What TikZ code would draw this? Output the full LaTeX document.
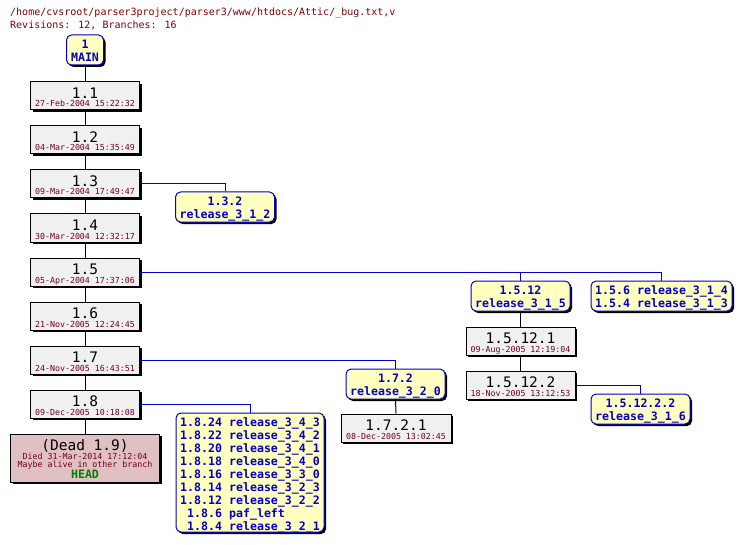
\documentclass[tikz,border=0pt]{standalone}
\usepackage{fontspec}
\setmainfont{DejaVu Sans Mono}
\setmonofont{DejaVu Sans Mono}
\usetikzlibrary{shadows}
\definecolor{hdr}{RGB}{128,0,0}
\definecolor{datec}{RGB}{112,0,32}
\definecolor{bblue}{RGB}{0,0,200}
\definecolor{byel}{RGB}{255,255,192}
\definecolor{tgrey}{RGB}{240,240,240}
\definecolor{deadf}{RGB}{224,192,192}
\definecolor{headg}{RGB}{0,128,0}
\newcommand\revnode[5]{%
  \node[revbox] (#1) at (#2,#3) {};
  \node[revt] (#1t) at (#2,#3+2.5) {#4};
  \node[datet] (#1d) at (#2,#3+11) {#5};}
\newcommand\brnode[6]{%
  \node[brbox,minimum width=#4pt] (#1) at (#2,#3) {};
  \node[brt] (#1a) at (#2,#3-1.3) {#5};
  \node[brt] (#1b) at (#2,#3+11.3) {#6};}
\begin{document}
\begin{tikzpicture}[x=1pt,y=-1pt,
  shd/.style={general shadow={fill=black,shadow xshift=2pt,shadow yshift=-2pt}},
  revbox/.style={draw=black,fill=tgrey,line width=1pt,minimum width=109pt,minimum height=28pt,inner sep=0pt,shd},
  brbox/.style={draw=bblue,fill=byel,line width=1pt,rounded corners=5pt,inner sep=0pt,minimum height=30pt,shd},
  revt/.style={anchor=base,inner sep=0pt,font=\fontsize{14.5}{16}\selectfont},
  datet/.style={anchor=base,inner sep=0pt,text=datec,font=\fontsize{8.3}{9}\selectfont},
  brt/.style={anchor=base,inner sep=0pt,text=bblue,font=\bfseries\fontsize{11.6}{13}\selectfont},
  hdrt/.style={anchor=base west,inner sep=0pt,text=hdr,font=\fontsize{10}{12}\selectfont},
  tconn/.style={draw=black,line width=1pt},
  bconn/.style={draw=bblue,line width=1pt}]
\fill[white] (0,0) rectangle (743,545);
\useasboundingbox (0,0) rectangle (743,545);
% header
\node[hdrt] (h1) at (10,16) {/home/cvsroot/parser3project/parser3/www/htdocs/Attic/\_bug.txt,v};
\node[hdrt] (h2) at (10,28.5) {Revisions: 12, Branches: 16};
% main
\brnode{main}{85}{50}{37}{1}{MAIN}
% trunk
\revnode{r11}{85}{96}{1.1}{27-Feb-2004 15:22:32}
\revnode{r12}{85}{140}{1.2}{04-Mar-2004 15:35:49}
\revnode{r13}{85}{184}{1.3}{09-Mar-2004 17:49:47}
\revnode{r14}{85}{228}{1.4}{30-Mar-2004 12:32:17}
\revnode{r15}{85}{272}{1.5}{05-Apr-2004 17:37:06}
\revnode{r16}{85}{316}{1.6}{21-Nov-2005 12:24:45}
\revnode{r17}{85}{360}{1.7}{24-Nov-2005 16:43:51}
\revnode{r18}{85}{404}{1.8}{09-Dec-2005 10:18:08}
% dead
\node[draw=black,fill=deadf,line width=1pt,minimum width=149pt,minimum height=48pt,inner sep=0pt,shd] (dead) at (85,458) {};
\node[revt] (deadt) at (85,450) {(Dead 1.9)};
\node[datet] (deadd) at (85,459) {Died 31-Mar-2014 17:12:04};
\node[datet] (deadm) at (85,467) {Maybe alive in other branch};
\node[brt,text=headg] (deadh) at (85,478.5) {HEAD};
% branches
\brnode{b132}{225}{207}{99}{1.3.2}{release\_3\_1\_2}
\brnode{b1512}{520.5}{296}{99}{1.5.12}{release\_3\_1\_5}
\node[brbox,minimum width=141pt] (b156) at (661.5,296) {};
\node[brt,anchor=base west] (b156t) at (595,294.7) {\begin{tabular}[t]{@{}r@{\ }l@{}}1.5.6&release\_3\_1\_4\\1.5.4&release\_3\_1\_3\end{tabular}};
\revnode{r15121}{520.5}{341}{1.5.12.1}{09-Aug-2005 12:19:04}
\revnode{r15122}{520.5}{385}{1.5.12.2}{18-Nov-2005 13:12:53}
\brnode{b15122}{640.5}{409}{99}{1.5.12.2.2}{release\_3\_1\_6}
\brnode{b172}{395.5}{384}{99}{1.7.2}{release\_3\_2\_0}
\node[revbox,minimum width=110pt] (r1721) at (396,428) {};
\node[revt] (r1721t) at (396,430.5) {1.7.2.1};
\node[datet] (r1721d) at (396,439) {08-Dec-2005 13:02:45};
\node[brbox,minimum height=119pt,minimum width=148pt] (b18) at (250,472.5) {};
\node[brt,anchor=base west] (b18t) at (180,426.5) {\begin{tabular}[t]{@{}r@{\ }l@{}}
1.8.24&release\_3\_4\_3\\
1.8.22&release\_3\_4\_2\\
1.8.20&release\_3\_4\_1\\
1.8.18&release\_3\_4\_0\\
1.8.16&release\_3\_3\_0\\
1.8.14&release\_3\_2\_3\\
1.8.12&release\_3\_2\_2\\
1.8.6&paf\_left\\
1.8.4&release\_3\_2\_1\end{tabular}};
% connectors
\draw[tconn] (main.south) -- (r11.north);
\draw[tconn] (r11.south) -- (r12.north);
\draw[tconn] (r12.south) -- (r13.north);
\draw[tconn] (r13.south) -- (r14.north);
\draw[tconn] (r14.south) -- (r15.north);
\draw[tconn] (r15.south) -- (r16.north);
\draw[tconn] (r16.south) -- (r17.north);
\draw[tconn] (r17.south) -- (r18.north);
\draw[tconn] (r18.south) -- (dead.north);
\draw[bconn] (r13.east) -| (b132.north);
\draw[bconn] (r15.east) -| (b1512.north);
\draw[bconn] (r15.east) -| (b156.north);
\draw[bconn] (r17.east) -| (b172.north);
\draw[bconn] (r18.east) -| (b18.north);
\draw[tconn] (b1512.south) -- (r15121.north);
\draw[tconn] (r15121.south) -- (r15122.north);
\draw[bconn] (r15122.east) -| (b15122.north);
\draw[tconn] (b172.south) -- (r1721.north);
\end{tikzpicture}
\end{document}
